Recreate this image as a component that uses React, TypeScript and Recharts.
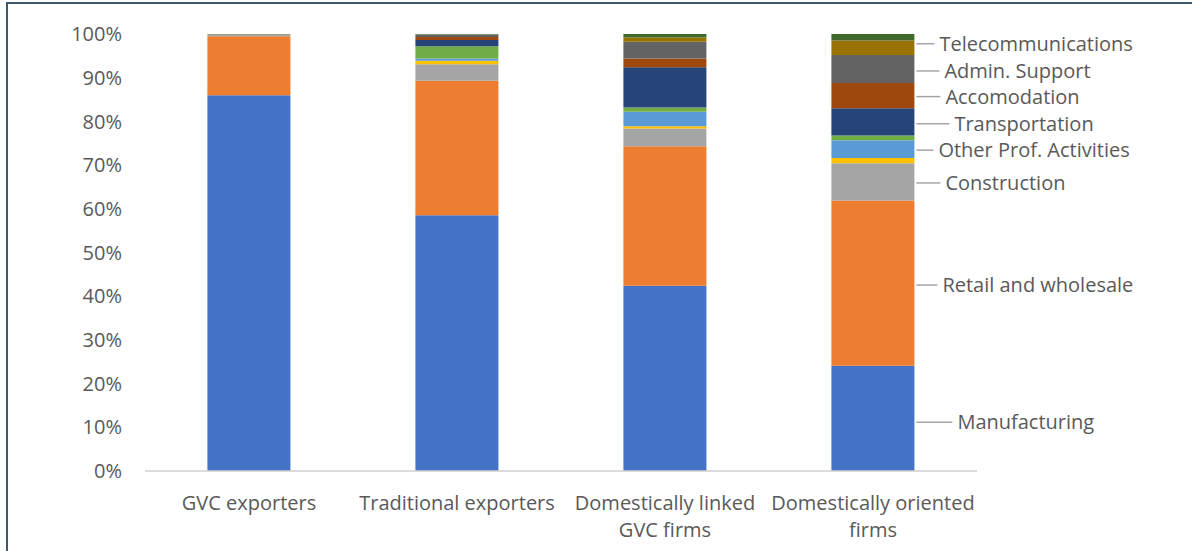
import { BarChart, Bar, XAxis, YAxis, LabelList } from 'recharts'

const categories = ['GVC exporters', 'Traditional exporters', 'Domestically linked GVC firms', 'Domestically oriented firms']

const manufacturing = [86.0, 58.5, 42.4, 24.1]
const retail = [13.5, 30.8, 31.9, 37.8]
const construction = [0.3, 3.8, 4.1, 8.5]
const otherServices = [0.1, 0.8, 0.5, 1.2]
const otherProf = [0.0, 0.5, 3.3, 4.1]
const otherIndustry = [0.0, 2.8, 1.0, 1.1]
const transportation = [0.0, 1.4, 9.2, 6.2]
const accomodation = [0.0, 0.7, 2.0, 5.8]
const adminSupport = [0.1, 0.5, 3.8, 6.4]
const telecom = [0.0, 0.1, 1.0, 3.3]
const finance = [0.0, 0.1, 0.8, 1.5]

const yTicks = [0, 10, 20, 30, 40, 50, 60, 70, 80, 90, 100]

const data = categories.map((name, i) => ({
  name,
  manufacturing: manufacturing[i],
  retail: retail[i],
  construction: construction[i],
  otherServices: otherServices[i],
  otherProf: otherProf[i],
  otherIndustry: otherIndustry[i],
  transportation: transportation[i],
  accomodation: accomodation[i],
  adminSupport: adminSupport[i],
  telecom: telecom[i],
  finance: finance[i],
}))

const series = [
  { key: 'manufacturing', label: 'Manufacturing', color: '#4472C4' },
  { key: 'retail', label: 'Retail and wholesale', color: '#ED7D31' },
  { key: 'construction', label: 'Construction', color: '#A5A5A5' },
  { key: 'otherServices', label: '', color: '#FFC000' },
  { key: 'otherProf', label: 'Other Prof. Activities', color: '#5B9BD5' },
  { key: 'otherIndustry', label: '', color: '#70AD47' },
  { key: 'transportation', label: 'Transportation', color: '#264478' },
  { key: 'accomodation', label: 'Accomodation', color: '#9E480E' },
  { key: 'adminSupport', label: 'Admin. Support', color: '#636363' },
  { key: 'telecom', label: 'Telecommunications', color: '#997300' },
  { key: 'finance', label: '', color: '#43682B' },
]

// gap from bar edge to label text, and vertical nudge
const labelOffsets: Record<string, { dx: number; dy: number }> = {
  manufacturing: { dx: 43, dy: 4 },
  retail: { dx: 28, dy: 2 },
  construction: { dx: 31, dy: 1 },
  otherProf: { dx: 24, dy: 1 },
  transportation: { dx: 40, dy: 2 },
  accomodation: { dx: 31, dy: 1 },
  adminSupport: { dx: 30, dy: 2 },
  telecom: { dx: 25, dy: -4 },
}

const FONT = '"Open Sans", sans-serif'
const TEXT = '#595959'
const FS = 20
const lastCategory = categories[categories.length - 1]

const makeLabel = (key: string, label: string) => (props: any) => {
  const { x, y, width, height, value } = props
  if (value !== lastCategory) return null
  const off = labelOffsets[key]
  const x0 = Number(x) + Number(width)
  const cy = Number(y) + Number(height) / 2 + off.dy
  return (
    <g>
      <line x1={x0 + 2} y1={cy} x2={x0 + off.dx - 5} y2={cy} stroke="#A6A6A6" strokeWidth={1.5} />
      <text x={x0 + off.dx} y={cy} dy="0.35em" fill={TEXT} fontSize={FS} fontFamily={FONT}>
        {label}
      </text>
    </g>
  )
}

const CategoryTick = ({ x, y, payload }: any) => {
  const lines: Record<string, string[]> = {
    'Domestically linked GVC firms': ['Domestically linked', 'GVC firms'],
    'Domestically oriented firms': ['Domestically oriented', 'firms'],
  }
  const parts = lines[payload.value] || [payload.value]
  return (
    <text x={x} y={y} textAnchor="middle" fill={TEXT} fontSize={FS} fontFamily={FONT}>
      {parts.map((p, i) => (
        <tspan key={i} x={x} dy={i === 0 ? 39 : 27}>
          {p}
        </tspan>
      ))}
    </text>
  )
}

export default function App() {
  return (
    <div style={{ position: 'absolute', left: 0, top: 0, width: 1192, height: 551, background: '#fff', overflow: 'hidden' }}>
      <div style={{ position: 'absolute', left: 6, top: 2, width: 1200, height: 560, borderLeft: '2px solid #3E5871', borderTop: '2px solid #3E5871' }} />
      <BarChart
        width={1192}
        height={551}
        data={data}
        margin={{ top: 34, right: 215, bottom: 0, left: 0 }}
        barCategoryGap="30%"
      >
        <XAxis
          dataKey="name"
          height={80}
          tickLine={false}
          tickSize={0}
          tickMargin={0}
          stroke="#D0D0D0"
          strokeWidth={1.5}
          interval={0}
          tick={<CategoryTick />}
        />
        <YAxis
          width={145}
          domain={[0, 100]}
          ticks={yTicks}
          tickFormatter={(v: number) => `${v}%`}
          axisLine={false}
          tickLine={false}
          tickMargin={17}
          tick={{ fill: TEXT, fontSize: FS, fontFamily: FONT }}
        />
        {series.map(s => (
          <Bar key={s.key} dataKey={s.key} stackId="a" fill={s.color} isAnimationActive={false}>
            {s.label && <LabelList dataKey="name" content={makeLabel(s.key, s.label)} />}
          </Bar>
        ))}
      </BarChart>
    </div>
  )
}
